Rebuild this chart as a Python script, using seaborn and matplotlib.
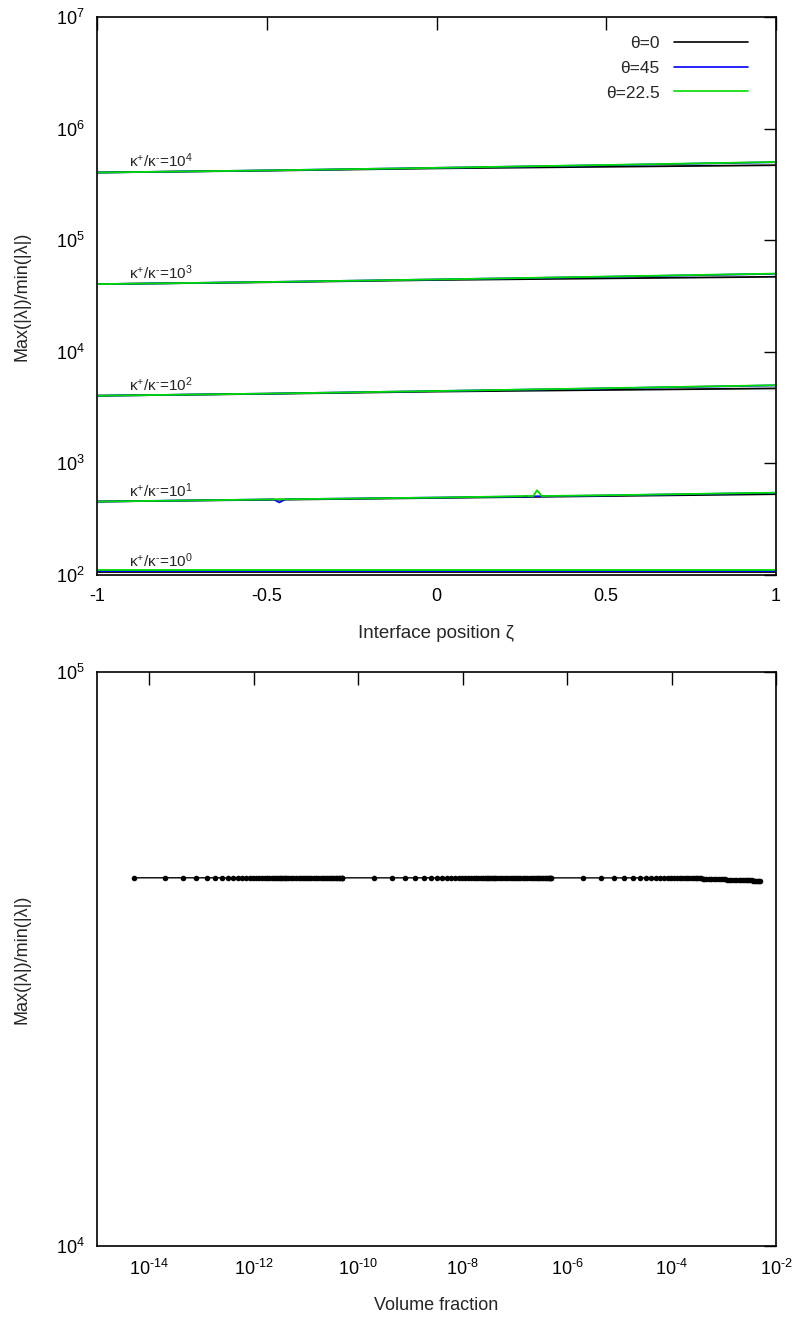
import numpy as np
import pandas as pd
import matplotlib
matplotlib.use('Agg')
import matplotlib.pyplot as plt
import seaborn as sns
from matplotlib.ticker import FixedLocator, NullLocator, FixedFormatter

# ---- haut : rapport max/min en fonction de la position de l'interface ----
zeta = [-1.0, -0.5, 0.0, 0.5, 1.0]
levels = [4, 3, 2, 1, 0]
thetas = ['θ=0', 'θ=45', 'θ=22.5']

ratio_t0 = {
    4: [4.04e5, 4.20e5, 4.40e5, 4.55e5, 4.70e5],
    3: [4.04e4, 4.20e4, 4.40e4, 4.55e4, 4.70e4],
    2: [4.04e3, 4.20e3, 4.40e3, 4.55e3, 4.70e3],
    1: [455, 472, 490, 510, 530],
    0: [106, 106, 106, 106, 106],
}
ratio_t45 = {
    4: [4.04e5, 4.22e5, 4.45e5, 4.70e5, 5.00e5],
    3: [4.04e4, 4.22e4, 4.45e4, 4.70e4, 5.00e4],
    2: [4.04e3, 4.22e3, 4.45e3, 4.70e3, 5.00e3],
    0: [108.5, 108.5, 108.5, 108.5, 108.5],
}
ratio_t22 = {
    4: [4.04e5, 4.22e5, 4.45e5, 4.72e5, 5.02e5],
    3: [4.04e4, 4.22e4, 4.45e4, 4.72e4, 5.02e4],
    2: [4.04e3, 4.22e3, 4.45e3, 4.72e3, 5.02e3],
    0: [112, 112, 112, 112, 112],
}
# courbes kappa=10 avec les petits accidents
zeta_t45_k1 = [-1.0, -0.5, -0.48, -0.463, -0.445, 0.0, 0.5, 1.0]
ratio_t45_k1 = [455, 475, 476, 447, 477, 494, 516, 545]
zeta_t22_k1 = [-1.0, -0.5, 0.0, 0.25, 0.264, 0.275, 0.285, 0.296, 0.31, 0.5, 1.0]
ratio_t22_k1 = [455, 475, 494, 508, 512, 508, 509, 575, 510, 518, 547]

# ---- bas : rapport en fonction de la fraction volumique ----
vf_steps = [1, 4, 9, 16, 25, 36, 49, 64, 81, 100, 121, 144, 169, 196, 225, 256, 289,
            324, 361, 400, 441, 484, 529, 576, 625, 676, 729, 784, 841, 900, 1024,
            1156, 1296, 1444, 1600, 1764, 1936, 2116, 2304, 2500, 2809, 3136, 3481,
            3844, 4225, 4624, 5041, 5476, 5929, 6400, 6889, 7396, 7921, 8464, 9025,
            9604, 10000]
vf_scales = [5e-15, 5e-11, 5e-7]
cond_flat = 43800
cond_last = [43800] * 18 + [43783, 43769, 43755, 43741, 43727, 43713, 43700, 43688,
             43677, 43667, 43656, 43645, 43625, 43607, 43590, 43572, 43557, 43542,
             43528, 43514, 43501, 43489, 43471, 43454, 43438, 43423, 43409, 43395,
             43382, 43370, 43357, 43346, 43335, 43324, 43313, 43303, 43293, 43284,
             43278]

top_yticks = [1e2, 1e3, 1e4, 1e5, 1e6, 1e7]
top_ylabels = ['2', '3', '4', '5', '6', '7']
bot_xticks = [1e-14, 1e-12, 1e-10, 1e-8, 1e-6, 1e-4, 1e-2]
bot_xlabels = ['-14', '-12', '-10', '-8', '-6', '-4', '-2']


def pow10(e):
    return r'10$^{\text{%s}}$' % e


# tableau long pour seaborn
rows = []
for th, tab in [('θ=0', ratio_t0), ('θ=45', ratio_t45), ('θ=22.5', ratio_t22)]:
    for lv, vals in tab.items():
        for z, r in zip(zeta, vals):
            rows.append((th, lv, z, r))
for z, r in zip(zeta_t45_k1, ratio_t45_k1):
    rows.append(('θ=45', 1, z, r))
for z, r in zip(zeta_t22_k1, ratio_t22_k1):
    rows.append(('θ=22.5', 1, z, r))
df_top = pd.DataFrame(rows, columns=['theta', 'level', 'zeta', 'ratio'])

vf, cond = [], []
for i, sc in enumerate(vf_scales):
    for j, s in enumerate(vf_steps):
        vf.append(sc * s)
        cond.append(cond_last[j] if i == 2 else cond_flat)
df_bot = pd.DataFrame({'vf': vf, 'cond': cond})

sns.set_theme(style='white')
plt.rcParams['font.family'] = ['Liberation Sans', 'DejaVu Sans']
plt.rcParams['mathtext.fontset'] = 'custom'
plt.rcParams['mathtext.rm'] = 'Liberation Sans'
plt.rcParams['mathtext.it'] = 'Liberation Sans:italic'
plt.rcParams['mathtext.bf'] = 'Liberation Sans:bold'
plt.rcParams['axes.unicode_minus'] = False

fig = plt.figure(figsize=(7.96, 13.23), dpi=100)
W, H = 796, 1323
ax1 = fig.add_axes([97 / W, 1 - 575 / H, 679 / W, 558 / H])
ax2 = fig.add_axes([97 / W, 1 - 1246 / H, 679 / W, 574 / H])

palette = {'θ=0': 'black', 'θ=45': '#0000ff', 'θ=22.5': '#00dd00'}
sns.lineplot(data=df_top, x='zeta', y='ratio', hue='theta', units='level',
             estimator=None, sort=False, hue_order=thetas, palette=palette,
             linewidth=1.3, ax=ax1)
ax1.set_yscale('log')
ax1.set_xlim(-1, 1)
ax1.set_ylim(1e2, 1e7)
ax1.xaxis.set_major_locator(FixedLocator([-1, -0.5, 0, 0.5, 1]))
ax1.set_xticklabels(['-1', '-0.5', '0', '0.5', '1'])
ax1.yaxis.set_major_locator(FixedLocator(top_yticks))
ax1.yaxis.set_major_formatter(FixedFormatter([pow10(e) for e in top_ylabels]))
ax1.yaxis.set_minor_locator(NullLocator())
ax1.set_xlabel('Interface position ζ', fontsize=13.5, labelpad=15)
ax1.set_ylabel('Max(|λ|)/min(|λ|)', fontsize=13, labelpad=18)

for lv in levels:
    ax1.text(-0.905, ratio_t0[lv][0] * 1.11,
             r'κ$^{+}$/κ$^{\text{-}}$=10$^{%d}$' % lv,
             fontsize=11, ha='left', va='baseline')

leg = ax1.legend(loc='upper right', bbox_to_anchor=(0.959, 0.966), frameon=False,
                 markerfirst=False, handlelength=4.25, handletextpad=0.85,
                 labelspacing=0.55, borderpad=0, borderaxespad=0, fontsize=12.5)
for h in leg.get_lines():
    h.set_linewidth(1.2)

sns.lineplot(data=df_bot, x='vf', y='cond', color='black', marker='o',
             markersize=4, markeredgewidth=0, linewidth=1, estimator=None,
             sort=False, ax=ax2)
ax2.set_xscale('log')
ax2.set_yscale('log')
ax2.set_xlim(1e-15, 1e-2)
ax2.set_ylim(1e4, 1e5)
ax2.xaxis.set_major_locator(FixedLocator(bot_xticks))
ax2.xaxis.set_major_formatter(FixedFormatter([pow10(e) for e in bot_xlabels]))
ax2.xaxis.set_minor_locator(NullLocator())
ax2.yaxis.set_major_locator(FixedLocator([1e4, 1e5]))
ax2.yaxis.set_major_formatter(FixedFormatter([pow10('4'), pow10('5')]))
ax2.yaxis.set_minor_locator(NullLocator())
ax2.set_xlabel('Volume fraction', fontsize=13, labelpad=13)
ax2.set_ylabel('Max(|λ|)/min(|λ|)', fontsize=13, labelpad=18)

for ax in (ax1, ax2):
    ax.tick_params(axis='both', which='major', direction='in', top=True,
                   right=True, length=9, width=1, labelsize=13, pad=9,
                   color='black', labelcolor='black')
    for sp in ax.spines.values():
        sp.set_color('black')
        sp.set_linewidth(1.2)

fig.savefig('out.png', dpi=100)
